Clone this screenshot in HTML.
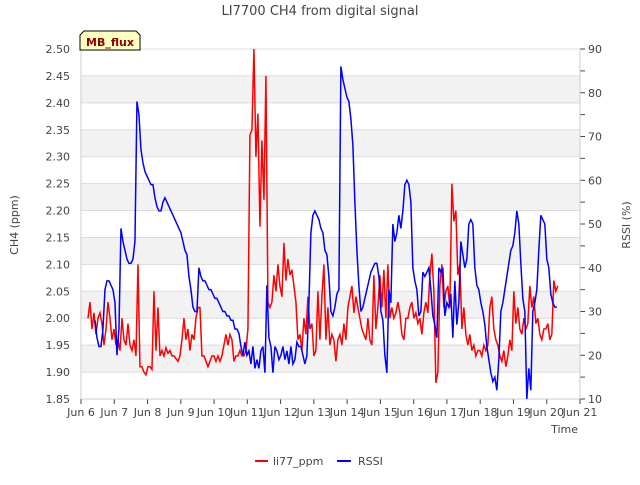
<!DOCTYPE html>
<html><head><meta charset="utf-8"><style>
body{margin:0;background:#fff;font-family:"Liberation Sans","DejaVu Sans",sans-serif}
svg text{font-family:"DejaVu Sans","Liberation Sans",sans-serif;fill:#444}
</style></head><body>
<svg id="chart" width="640" height="480"></svg>
<script>
const redStartDay=0.21, redStepDay=0.0601;
const redValues=[2.00,2.03,1.98,2.01,1.97,2.00,2.01,1.99,1.95,1.98,2.03,2.00,1.96,1.98,1.95,1.96,1.94,2.00,1.96,1.95,1.99,1.95,1.94,1.96,1.93,2.10,1.91,1.91,1.90,1.895,1.91,1.91,1.905,2.05,1.94,2.02,1.93,1.94,1.93,1.945,1.935,1.94,1.93,1.93,1.925,1.92,1.93,1.96,2.00,1.96,1.98,1.94,1.97,1.96,2.00,2.02,2.02,1.93,1.93,1.92,1.91,1.92,1.93,1.93,1.92,1.93,1.92,1.93,1.95,1.97,1.95,1.97,1.96,1.92,1.93,1.93,1.94,1.93,1.93,1.94,1.98,2.34,2.35,2.50,2.30,2.38,2.17,2.33,2.22,2.45,2.03,2.02,
2.03,2.08,2.05,2.10,2.06,2.04,2.14,2.07,2.11,2.08,2.09,2.06,2.03,1.96,1.97,1.94,2.00,1.97,2.04,1.98,1.99,1.93,1.94,2.05,1.96,2.04,2.10,1.96,2.02,1.95,1.97,1.96,1.92,1.96,1.97,1.95,1.99,1.96,2.02,2.04,2.06,2.01,2.04,2.02,2.00,1.98,1.97,1.96,2.00,1.96,1.95,2.08,1.98,2.02,2.08,2.02,2.09,2.00,2.10,2.00,2.02,2.00,2.01,2.03,2.01,1.97,1.96,2.00,2.00,2.02,2.03,2.00,2.01,1.99,2.00,1.97,2.01,2.03,2.01,2.08,2.12,2.05,1.88,1.90,2.06,2.10,2.02,2.05,2.06,2.02,2.25,2.18,2.20,2.08,2.10,1.98,2.02,1.97,1.95,1.97,1.94,1.95,1.93,1.94,1.94,1.93,1.95,1.94,1.95,2.02,2.04,1.98,1.96,1.95,1.93,1.92,1.94,1.91,1.93,1.96,1.94,2.05,1.99,2.02,1.98,1.97,2.00,1.98,1.99,2.06,2.02,2.04,1.99,2.00,1.97,1.96,1.98,1.98,1.99,1.96,1.97,2.07,2.05,2.06];
const rssiStartDay=0.42, rssiStepDay=0.0601;
const rssiValues=[28,24,22,22,26,35,37,37,36,35,32,20,26,49,46,44,42,41,41,42,46,78,75,67,64,62,61,60,59,59,56,54,53,53,55,56,55,54,53,52,51,50,49,48,46,44,43,38,35,31,30,30,40,38,37,37,36,35,35,34,33,33,32,31,30,30,29,29,28,28,26,26,25,22,20,23,20,21,18,22,17,19,17,21,22,16,36,24,22,16,22,21,19,20,22,19,21,18,22,18,19,23,22,22,20,18,20,32,48,52,53,52,51,49,48,44,43,38,30,29,31,34,35,86,83,81,79,78,74,68,55,44,36,30,31,33,35,37,39,40,41,41,38,30,28,20,16,35,32,50,46,48,52,49,53,59,60,59,55,40,37,35,29,30,39,38,39,40,35,29,27,24,40,39,40,29,32,31,34,24,37,27,32,46,43,40,42,50,51,50,40,36,35,32,30,27,22,19,16,14,15,12,19,30,32,35,38,41,44,45,48,53,50,41,33,30,10,17,12,30,32,35,44,52,51,50,42,40,34,32,31,31];
const leftTicks=["1.85","1.90","1.95","2.00","2.05","2.10","2.15","2.20","2.25","2.30","2.35","2.40","2.45","2.50"];
const rightTicks=[10,20,30,40,50,60,70,80,90];
const xTickLabels=["Jun 6","Jun 7","Jun 8","Jun 9","Jun 10","Jun 11","Jun 12","Jun 13","Jun 14","Jun 15","Jun 16","Jun 17","Jun 18","Jun 19","Jun 20","Jun 21"];

const L=81,R=580,T=49,B=399;
const xs=d=>L+(R-L)*d/15;
const yL=v=>B-(v-1.85)/0.65*(B-T);
const yR=v=>B-(v-10)/80*(B-T);
const svg=document.getElementById('chart');
const NS='http://www.w3.org/2000/svg';
function mk(tag,attrs,parent){const e=document.createElementNS(NS,tag);for(const k in attrs)e.setAttribute(k,attrs[k]);(parent||svg).appendChild(e);return e;}

// bands
for(let i=0;i<leftTicks.length-1;i++){
  const v=parseFloat(leftTicks[i]);
  if(i%2===1){const r=mk('rect',{x:L,y:yL(v+0.05),width:R-L,height:yL(v)-yL(v+0.05),fill:'#f2f2f2'});
  
  }
}
leftTicks.forEach(t=>{const v=parseFloat(t);const y=yL(v);
  const g=mk('line',{x1:L,x2:R,y1:y,y2:y,stroke:'#dcdcdc','stroke-width':1});
  
  
  const tx=mk('text',{x:70,y:y+4,'text-anchor':'end','font-size':11});tx.textContent=t;
  
  
});
rightTicks.forEach(v=>{const y=yR(v);
  mk('line',{x1:R,x2:R+5,y1:y,y2:y,stroke:'#444'});
  if(v<90)mk('line',{x1:R,x2:R+5,y1:yR(v+5),y2:yR(v+5),stroke:'#444'});
  const tx=mk('text',{x:588,y:y+4,'font-size':11});tx.textContent=v;
  
  
});
xTickLabels.forEach((t,i)=>{const x=xs(i);
  mk('line',{x1:x,x2:x,y1:B,y2:B+5,stroke:'#444'});
  const tx=mk('text',{x:x,y:416,'text-anchor':'middle','font-size':11});tx.textContent=t;
  
  
});
mk('line',{x1:L,x2:L,y1:T,y2:B,stroke:'#ccc'});
mk('line',{x1:L,x2:R,y1:B,y2:B,stroke:'#ccc'});
mk('line',{x1:R,x2:R,y1:T,y2:B,stroke:'#ccc'});

let d='';redValues.forEach((v,i)=>{d+=(i?'L':'M')+xs(redStartDay+i*redStepDay).toFixed(2)+','+yL(v).toFixed(2);});
const rl=mk('path',{d:d,fill:'none',stroke:'#ff0000','stroke-width':1.5});


d='';rssiValues.forEach((v,i)=>{d+=(i?'L':'M')+xs(rssiStartDay+i*rssiStepDay).toFixed(2)+','+yR(v).toFixed(2);});
const bl=mk('path',{d:d,fill:'none',stroke:'#0000ff','stroke-width':1.5});


</script>
<svg width="640" height="480" style="position:absolute;left:0;top:0">
<text x="320" y="15" text-anchor="middle" font-size="13">LI7700 CH4 from digital signal</text>
<text transform="translate(18,225) rotate(-90)" text-anchor="middle" font-size="11">CH4 (ppm)</text>
<text transform="translate(630,225) rotate(-90)" text-anchor="middle" font-size="11">RSSI (%)</text>
<text x="578" y="433" text-anchor="end" font-size="11">Time</text>
<polygon points="84,31 136,31 140,35 140,50 80,50 80,35" fill="#ffffc0" stroke="#000" stroke-width="1"/>
<text x="110" y="46" text-anchor="middle" font-size="11" font-weight="bold" style="fill:#8b0000">MB_flux</text>
<line x1="255" y1="461" x2="268" y2="461" stroke="#ff0000" stroke-width="2"/>
<text x="273" y="465" font-size="11">li77_ppm</text>
<line x1="337" y1="461" x2="351" y2="461" stroke="#0000ff" stroke-width="2"/>
<text x="358" y="465" font-size="11">RSSI</text>
</svg>
</body></html>
